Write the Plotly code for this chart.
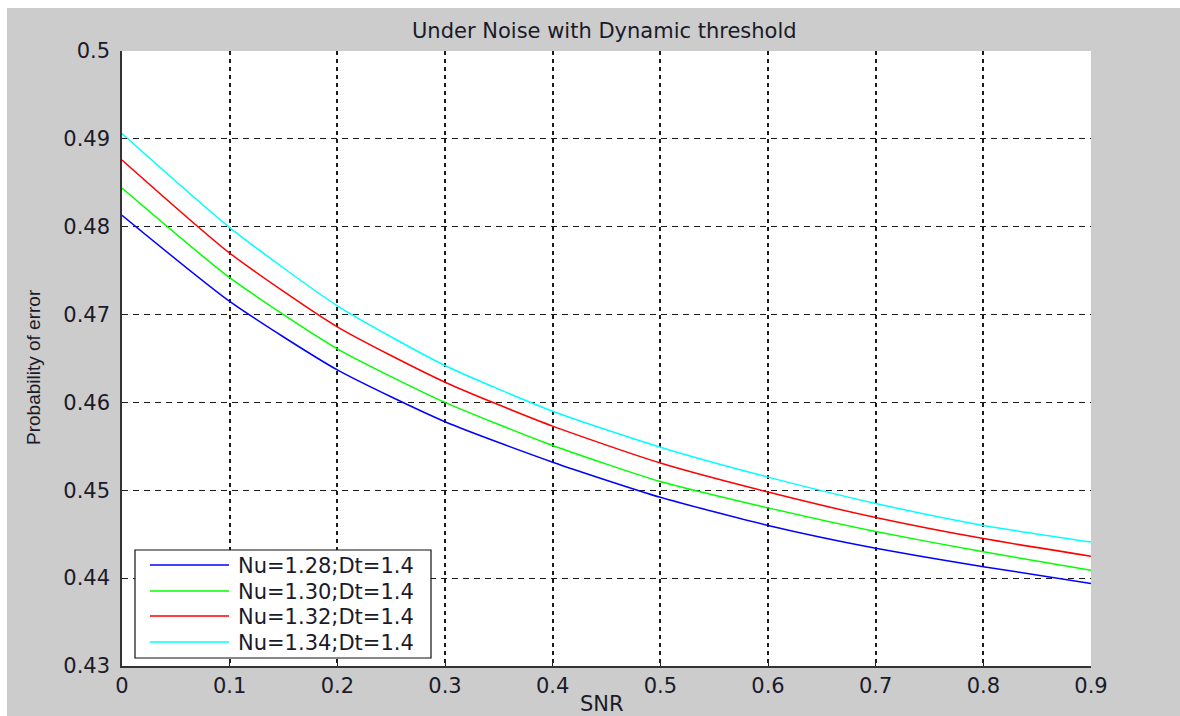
import plotly.graph_objects as go

snr = [0.0, 0.1, 0.2, 0.3, 0.4, 0.5, 0.6, 0.7, 0.8, 0.9]
pe_128 = [0.4813, 0.4715, 0.4637, 0.4578, 0.4532, 0.4492, 0.4460, 0.4434, 0.4413, 0.4394]
pe_130 = [0.4844, 0.4742, 0.4661, 0.4600, 0.4551, 0.4510, 0.4480, 0.4453, 0.4430, 0.4409]
pe_132 = [0.4876, 0.4770, 0.4686, 0.4623, 0.4573, 0.4531, 0.4498, 0.4469, 0.4445, 0.4425]
pe_134 = [0.4906, 0.4799, 0.4710, 0.4642, 0.4590, 0.4549, 0.4515, 0.4485, 0.4460, 0.4441]
names = ["Nu=1.28;Dt=1.4", "Nu=1.30;Dt=1.4", "Nu=1.32;Dt=1.4", "Nu=1.34;Dt=1.4"]
colors = ["#0000ff", "#00ff00", "#ff0000", "#00ffff"]
x_ticks = [0, 0.1, 0.2, 0.3, 0.4, 0.5, 0.6, 0.7, 0.8, 0.9]
x_ticktext = ["0", "0.1", "0.2", "0.3", "0.4", "0.5", "0.6", "0.7", "0.8", "0.9"]
y_ticks = [0.43, 0.44, 0.45, 0.46, 0.47, 0.48, 0.49, 0.5]
y_ticktext = ["0.43", "0.44", "0.45", "0.46", "0.47", "0.48", "0.49", "0.5"]

W, H = 1180, 716
L, R, T, B = 122, 1091, 51, 666
GRAY = "#cccccc"
TXT = "#1a1a2a"
FONT = "DejaVu Sans"


def px(xp):
    return (xp - L) / (R - L)


def py(yp):
    return (B - yp) / (B - T)


fig = go.Figure()
for vals, name, col in zip([pe_128, pe_130, pe_132, pe_134], names, colors):
    fig.add_trace(go.Scatter(x=snr, y=vals, mode="lines", name=name,
                             line=dict(color=col, width=1.5, shape="spline", smoothing=0.6),
                             showlegend=False))

shapes = []
# white outer margins (left and top)
shapes.append(dict(type="rect", xref="paper", yref="paper", x0=px(0), x1=px(7), y0=py(H + 5), y1=py(-5),
                   fillcolor="white", line=dict(width=0), layer="below"))
shapes.append(dict(type="rect", xref="paper", yref="paper", x0=px(-5), x1=px(W + 5), y0=py(8), y1=py(-5),
                   fillcolor="white", line=dict(width=0), layer="below"))
# legend box
shapes.append(dict(type="rect", xref="paper", yref="paper", x0=px(135), x1=px(431), y0=py(658), y1=py(550),
                   fillcolor="white", line=dict(color="#111111", width=1.2), layer="above"))
row_y = [565, 591, 616, 642]
annotations = []
for ry, name, col in zip(row_y, names, colors):
    shapes.append(dict(type="line", xref="paper", yref="paper", x0=px(150), x1=px(229), y0=py(ry), y1=py(ry),
                       line=dict(color=col, width=1.5), layer="above"))
    annotations.append(dict(text=name, xref="paper", yref="paper", x=px(236), y=py(ry + 1),
                            xanchor="left", yanchor="middle", showarrow=False,
                            font=dict(family=FONT, size=21, color=TXT)))

annotations.append(dict(text="Under Noise with Dynamic threshold", xref="paper", yref="paper",
                        x=px(604), y=py(31), xanchor="center", yanchor="middle", showarrow=False,
                        font=dict(family=FONT, size=21, color=TXT)))
annotations.append(dict(text="SNR", xref="paper", yref="paper",
                        x=px(602), y=py(704), xanchor="center", yanchor="middle", showarrow=False,
                        font=dict(family=FONT, size=21, color=TXT)))
annotations.append(dict(text="Probability of error", xref="paper", yref="paper", textangle=-90,
                        x=px(33), y=py(367), xanchor="center", yanchor="middle", showarrow=False,
                        font=dict(family="Liberation Sans", size=19, color=TXT)))

axis_common = dict(showgrid=True, zeroline=False, showline=True, linecolor="#333333", linewidth=1.5,
                   ticks="inside", ticklen=5, tickcolor="#222222",
                   tickfont=dict(family=FONT, size=21, color=TXT))

fig.update_layout(
    width=W, height=H,
    margin=dict(l=L, r=W - R, t=T, b=H - B),
    paper_bgcolor=GRAY, plot_bgcolor="white",
    xaxis=dict(range=[0, 0.9], tickvals=x_ticks, ticktext=x_ticktext,
               gridcolor="#1a1a1a", gridwidth=2, griddash="4px,4px", **axis_common),
    yaxis=dict(range=[0.43, 0.5], tickvals=y_ticks, ticktext=y_ticktext, ticklabelstandoff=6,
               gridcolor="#1a1a1a", gridwidth=1.3, griddash="6px,5px", **axis_common),
    shapes=shapes, annotations=annotations,
)

fig.write_html("out.html")
